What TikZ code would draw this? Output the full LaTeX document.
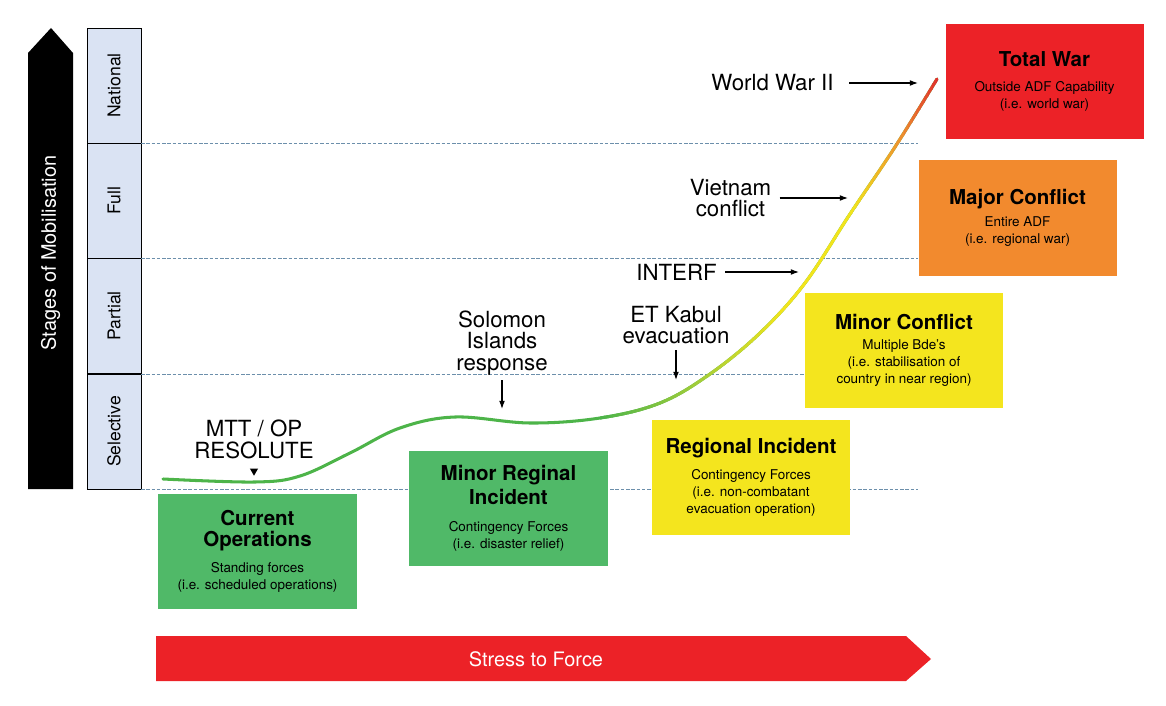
\documentclass[tikz,border=0pt]{standalone}
\usepackage{fontspec}
\setmainfont{TeX Gyre Heros}
\usepackage{xcolor}
\definecolor{colStage}{HTML}{DAE3F3}
\definecolor{colGrid}{HTML}{6C8FAB}
\definecolor{colGreenBox}{HTML}{50B968}
\definecolor{colYellowBox}{HTML}{F4E51E}
\definecolor{colOrangeBox}{HTML}{F28A2E}
\definecolor{colRedBox}{HTML}{EC2227}
\definecolor{cvGreen}{HTML}{4DB449}
\definecolor{cvLime}{HTML}{A6CE39}
\definecolor{cvYellow}{HTML}{F2E41C}
\definecolor{cvOrange}{HTML}{EE8E2E}
\definecolor{cvRed}{HTML}{E0302C}
\usepackage{tikz}
\usetikzlibrary{arrows.meta, positioning, shapes.geometric}

\newcommand{\ttlfont}{\bfseries\fontsize{17.5}{20}\selectfont}

\begin{document}
\begin{tikzpicture}[x=0.03cm, y=-0.03cm,
    stagebox/.style={draw=black, line width=0.8pt, fill=colStage, rotate=90,
        minimum width=3.45cm, minimum height=1.62cm, inner sep=0pt,
        font=\fontsize{15}{18}\selectfont},
    levelbox/.style={minimum width=5.94cm, minimum height=3.45cm, inner sep=2pt,
        align=center, font=\fontsize{11.5}{14.5}\selectfont},
    evtlabel/.style={align=center, inner sep=1pt, font=\fontsize{19}{18.6}\selectfont},
    evtarrow/.style={-{Latex[length=7pt, width=5pt]}, line width=0.9pt},
    gridline/.style={colGrid, line width=0.7pt, dash pattern=on 3pt off 1.5pt},
    forceline/.style={line width=2.6pt, line cap=round,
        insert path={plot[smooth, tension=0.6] coordinates {(163,479) (255,482) (300,476)
        (350,453) (400,428) (455,417) (530,423) (600,418) (660,403) (710,374) (760,333)
        (805,283) (850,214) (895,147) (937,79)}}}]
    \useasboundingbox (0,0) rectangle (1166,706);
    % Freccia verticale
    \fill[black] (28,489) -- (28,53) -- (51,28) -- (73,53) -- (73,489) -- cycle;
    \node[rotate=90, text=white, font=\fontsize{17}{20}\selectfont] (stagesTxt) at (50.5,253) {Stages of Mobilisation};
    % Livelli di mobilitazione
    \node[stagebox] (national) at (114,85.5) {National};
    \node[stagebox] (full) at (114,200.5) {Full};
    \node[stagebox] (partial) at (114,316) {Partial};
    \node[stagebox] (selective) at (114,431.5) {Selective};
    % Linee tratteggiate
    \foreach \ly in {143,258,374,489}{
        \draw[gridline] (141,\ly) -- (918,\ly);}
    % Curva
    \draw[forceline, cvGreen];
    \foreach \xs in {600,604,...,940}{
        \pgfmathtruncatemacro\pB{max(0,min(100,\xs-600))}
        \pgfmathtruncatemacro\qC{100-max(0,min(100,(\xs-700)*1.25))}
        \pgfmathtruncatemacro\qD{100-max(0,min(100,(\xs-850)*2))}
        \pgfmathtruncatemacro\qE{100-max(0,min(100,(\xs-900)*2.857))}
        \begin{scope}
            \clip (\xs,0) rectangle (\xs+4.5,706);
            \draw[forceline, color=cvLime!\pB!cvGreen!\qC!cvYellow!\qD!cvOrange!\qE!cvRed];
        \end{scope}}
    % Riquadri
    \node[levelbox, fill=colGreenBox] (curOps) at (257.5,551.5)
        {{\ttlfont Current}\\[3pt]{\ttlfont Operations}\\[7.6pt]Standing forces\\(i.e. scheduled operations)};
    \node[levelbox, fill=colGreenBox] (minorReg) at (508.5,508.5)
        {{\ttlfont Minor Reginal}\\[3pt]{\ttlfont Incident}\\[8.5pt]Contingency Forces\\(i.e. disaster relief)};
    \node[levelbox, fill=colYellowBox] (regional) at (751,477.5)
        {{\ttlfont Regional Incident}\\[7.6pt]Contingency Forces\\(i.e. non-combatant\\evacuation operation)};
    \node[levelbox, fill=colYellowBox] (minorConf) at (904,350.5)
        {{\ttlfont Minor Conflict}\\[2.5pt]Multiple Bde's\\(i.e. stabilisation of\\country in near region)};
    \node[levelbox, fill=colOrangeBox] (majorConf) at (1017.5,218)
        {{\ttlfont Major Conflict}\\[4.2pt]Entire ADF\\(i.e. regional war)};
    \node[levelbox, fill=colRedBox] (totalWar) at (1044.5,81.5)
        {{\ttlfont Total War}\\[6.8pt]Outside ADF Capability\\(i.e. world war)};
    % Eventi
    \node[evtlabel] (mtt) at (254,439) {MTT / OP\\RESOLUTE};
    \node[fill=black, isosceles triangle, isosceles triangle apex angle=60, shape border rotate=-90,
        inner sep=0pt, minimum size=6pt] (mttMark) at (254,471) {};
    \node[evtlabel] (solomon) at (502,343) {Solomon\\Islands\\response};
    \node[evtlabel] (kabul) at (676,325) {ET Kabul\\evacuation};
    \node[evtlabel] (interf) at (676.5,272) {INTERF};
    \node[evtlabel] (vietnam) at (730.5,198) {Vietnam\\conflict};
    \node[evtlabel] (wwii) at (772.5,83) {World War II};
    \coordinate (solomonTip) at (502,409);
    \coordinate (kabulTip) at (676,380);
    \coordinate (interfTip) at (799,272);
    \coordinate (vietnamTip) at (848,198);
    \coordinate (wwiiTip) at (918,83);
    \draw[evtarrow, shorten <=3pt] (solomon) -- (solomonTip);
    \draw[evtarrow, shorten <=4pt] (kabul) -- (kabulTip);
    \draw[evtarrow, shorten <=6pt] (interf) -- (interfTip);
    \draw[evtarrow, shorten <=6pt] (vietnam) -- (vietnamTip);
    \draw[evtarrow, shorten <=12pt] (wwii) -- (wwiiTip);
    % Freccia orizzontale
    \fill[colRedBox] (156,636) -- (906,636) -- (931,659) -- (906,681) -- (156,681) -- cycle;
    \node[text=white, font=\fontsize{17}{20}\selectfont] (stressTxt) at (536,659) {Stress to Force};
\end{tikzpicture}
\end{document}
